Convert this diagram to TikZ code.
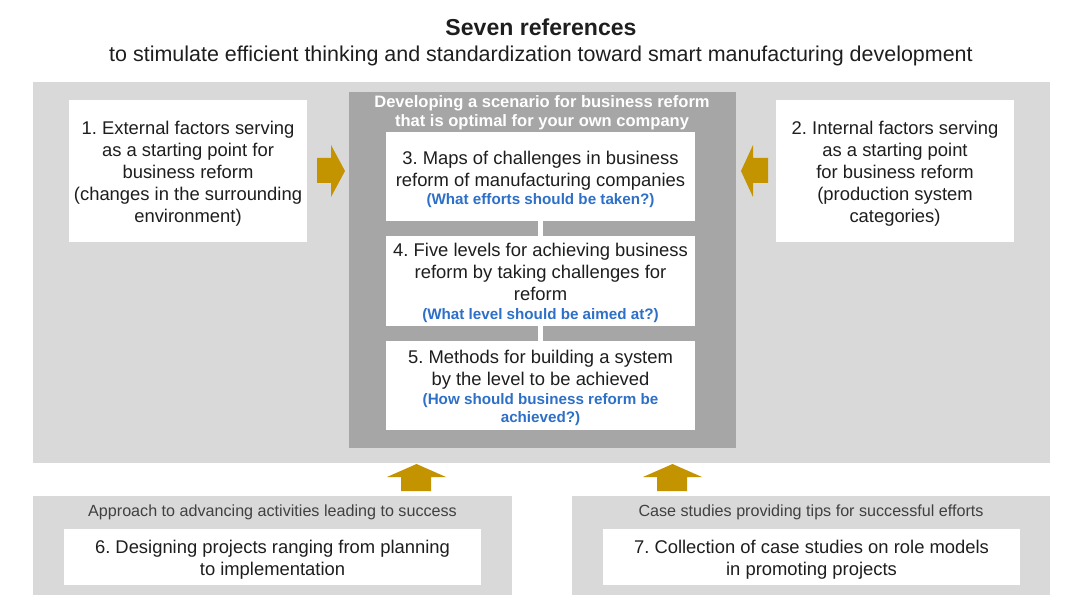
\documentclass[tikz,border=0pt]{standalone}
\usepackage{fontspec}
\setmainfont{Liberation Sans}
\frenchspacing

\definecolor{lightbg}{HTML}{D9D9D9}
\definecolor{darkbg}{HTML}{A6A6A6}
\definecolor{goldarrow}{RGB}{196,147,0}
\definecolor{qblue}{RGB}{46,112,200}
\definecolor{txtdark}{HTML}{1E1E1E}
\definecolor{txtgray}{HTML}{404040}

\newcommand{\pu}{0.75pt}
\newcommand{\titlefont}{\fontsize{17.3}{20}\selectfont\bfseries}
\newcommand{\subfont}{\fontsize{16.1}{19}\selectfont}
\newcommand{\bodyfont}{\fontsize{13.8}{16.5}\selectfont}
\newcommand{\qfont}{\fontsize{11.4}{13.5}\selectfont\bfseries\color{qblue}}
\newcommand{\hdfont}{\fontsize{12.4}{14.25}\selectfont\bfseries}
\newcommand{\capfont}{\fontsize{12.1}{14}\selectfont}

\tikzset{
  wbox/.style={fill=white, inner sep=0pt},
  btext/.style={inner sep=0pt, align=center, text=txtdark, font=\bodyfont},
  hdtext/.style={align=center, text=white, font=\hdfont, inner sep=0pt},
  captext/.style={text=txtgray, font=\capfont, inner sep=0pt},
  linkbar/.style={draw=white, line width=5*\pu}
}

\begin{document}
\begin{tikzpicture}[x=0.75pt,y=-0.75pt]
	\useasboundingbox (0,0) rectangle (1091,605);

	% title
	\node[font=\titlefont, text=txtdark] (title) at (541,27) {Seven references};
	\node[font=\subfont, text=txtdark] (subtitle) at (541,56) {to stimulate efficient thinking and standardization toward smart manufacturing development};

	% upper panel
	\fill[lightbg] (33,82) rectangle (1050,463);
	\fill[darkbg] (349,92) rectangle (736,448);
	\node[hdtext] (scenario) at (542,113) {Developing a scenario for business reform\\that is optimal for your own company};

		\node[wbox, minimum width=238*\pu, minimum height=142*\pu] (ext) at (188,171) {};
		\node[btext] (ext-t) at (188,174)
			{1. External factors serving\\as a starting point for\\business reform\\(changes in the surrounding\\environment)};
		\node[wbox, minimum width=238*\pu, minimum height=142*\pu] (int) at (895,171) {};
		\node[btext] (int-t) at (895,174)
			{2. Internal factors serving\\as a starting point\\for business reform\\(production system\\categories)};

		\node[wbox, minimum width=309*\pu, minimum height=89*\pu] (maps) at (540.5,176.5) {};
		\node[btext] (maps-t) at (540.5,179.5)
			{3. Maps of challenges in business\\reform of manufacturing companies\\[-3pt]{\qfont (What efforts should be taken?)}};
		\node[wbox, minimum width=309*\pu, minimum height=90*\pu] (levels) at (540.5,281) {};
		\node[btext] (levels-t) at (540.5,283)
			{4. Five levels for achieving business\\reform by taking challenges for\\reform\\[-2pt]{\qfont (What level should be aimed at?)}};
		\node[wbox, minimum width=309*\pu, minimum height=89*\pu] (methods) at (540.5,385.5) {};
		\node[btext] (methods-t) at (540.5,388)
			{5. Methods for building a system\\by the level to be achieved\\[-2pt]{\qfont (How should business reform be}\\[-3pt]{\qfont achieved?)}};

		\draw[linkbar] (maps) -- (levels);
		\draw[linkbar] (levels) -- (methods);

	% side arrows
	\fill[goldarrow] (317,158) -- (331,158) -- (331,145) -- (345,171) -- (331,197) -- (331,183) -- (317,183) -- cycle;
	\fill[goldarrow] (768,158) -- (753,158) -- (753,145) -- (741,171) -- (753,197) -- (753,183) -- (768,183) -- cycle;

	% up arrows
	\fill[goldarrow] (401,491) -- (401,477) -- (387,477) -- (416.5,464) -- (446,477) -- (431,477) -- (431,491) -- cycle;
	\fill[goldarrow] (657,491) -- (657,477) -- (643,477) -- (672.5,464) -- (702,477) -- (687,477) -- (687,491) -- cycle;

	% lower panels
	\fill[lightbg] (33,496) rectangle (512,595);
	\node[captext] (approach) at (272.5,512) {Approach to advancing activities leading to success};
		\node[wbox, minimum width=417*\pu, minimum height=56*\pu] (design) at (272.5,557) {};
		\node[btext] (design-t) at (272.5,560)
			{6. Designing projects ranging from planning\\to implementation};

	\fill[lightbg] (572,496) rectangle (1050,595);
	\node[captext] (cases) at (811,512) {Case studies providing tips for successful efforts};
		\node[wbox, minimum width=417*\pu, minimum height=56*\pu] (collect) at (811.5,557) {};
		\node[btext] (collect-t) at (811.5,560)
			{7. Collection of case studies on role models\\in promoting projects};
\end{tikzpicture}
\end{document}
